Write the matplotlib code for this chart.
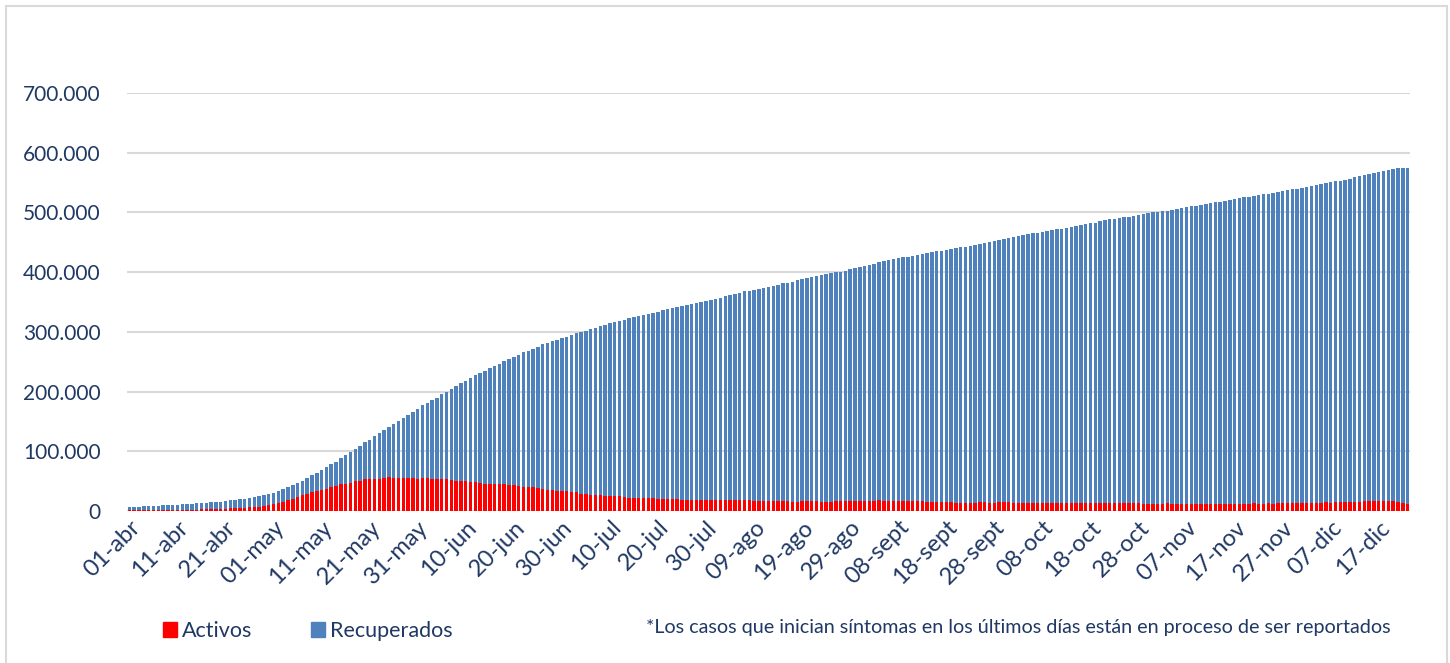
import numpy as np
import pandas as pd
import matplotlib
matplotlib.use('Agg')
import matplotlib.pyplot as plt
import matplotlib.transforms as mtransforms
from matplotlib.patches import Patch, Rectangle
from matplotlib.ticker import FuncFormatter

# fechas de inicio de sintomas: 01-abr al 23-dic
fechas = pd.date_range('2020-04-01', '2020-12-23', freq='D')

# casos acumulados (altura total de la barra), en miles
casos_k = [
    6.6, 7.2, 7.2, 7.8, 7.8, 8.3, 8.9, 9.4, 10.0, 10.0,
    10.6, 11.1, 11.7, 12.2, 12.8, 13.3, 13.9, 14.5, 15.0, 15.6,
    16.7, 17.8, 18.4, 19.5, 20.6, 21.7, 22.8, 24.5, 26.2, 28.4,
    30.7, 33.4, 36.8, 40.7, 43.5, 47.4, 50.8, 55.2, 59.7, 64.2,
    69.2, 73.6, 78.1, 82.0,
    88, 94, 98, 104, 109, 115, 119, 126, 130, 135,
    141, 146, 151, 156, 161, 166, 170, 177, 181, 186,
    190, 196, 200, 204, 209, 214, 218, 222, 227, 231,
    234, 239, 243, 247, 251, 255, 258, 262, 266, 268,
    271, 275, 279, 281, 284, 286, 289, 292, 295, 298,
    299.5, 301.8, 304.6, 306.8, 309.0, 311.3, 314.0, 315.7, 318.0, 320.2,
    322.4, 324.1, 326.3, 328.6, 330.2, 331.9, 333.6, 335.8, 337.5, 339.7,
    341.4, 343.1, 344.8, 345.9, 348.1, 349.2, 351.5, 353.7, 355.4, 357.1,
    359.3, 361.5, 363.2, 365.4, 367.7, 368.8, 369.9, 371.6, 373.3, 375.5,
    377.2, 378.9, 381.1, 382.2, 383.9, 386.1, 387.8, 389.4, 391.1, 392.8,
    394.5, 396.1, 397.8, 399.5,
    400.0, 402.3, 404.5, 406.2, 407.9, 410.1, 412.4, 414.0, 416.2, 418.5,
    419.6, 421.3, 422.9, 424.6, 425.8, 427.4, 429.1, 430.2, 431.9, 433.6,
    434.7, 435.8, 437.5, 438.6, 439.7, 441.4, 442.5, 444.2, 445.9, 447.5,
    449.2, 450.9, 452.6, 454.2, 455.9, 457.0, 458.7, 460.3, 462.0, 463.1,
    464.8, 465.9, 467.6, 469.2, 470.4, 471.5, 472.6, 473.7, 475.4, 477.0,
    478.2, 479.9, 481.5, 482.7,
    484.9, 486.6, 488.3, 489.4, 490.5, 491.6, 492.7, 493.8,
    495.5, 497.2, 498.8, 500.0, 501.1, 501.7, 502.8, 504.5, 505.6, 507.3,
    508.9, 510.0, 511.2, 512.3, 513.9, 515.6, 516.7, 517.9, 519.5, 520.6,
    521.8, 523.4, 525.1, 526.2, 527.9, 529.6, 530.7, 531.3, 532.9, 534.6,
    536.3, 537.4, 538.5, 539.6, 540.7, 542.4, 544.1, 545.8, 547.4, 549.1,
    550.8, 551.9, 553.0, 554.7, 556.4, 558.6, 560.8, 563.1, 564.7, 566.4,
    568.1, 569.8, 571.4, 573.1, 574.2, 574.2, 574.2,
]

# casos activos (parte roja), en miles
activos_k = [
    1.0, 1.1, 1.2, 1.3, 1.4, 1.5, 1.6, 1.7, 1.8, 1.9,
    2.0, 2.1, 2.2, 2.4, 2.5, 2.7, 3.0, 3.2, 3.5, 3.8,
    4.0, 4.4, 5.0, 5.3, 5.6, 6.0, 6.6, 7.5, 8.8, 9.6,
    11, 13, 15, 18, 20, 23, 26, 28.5, 31, 34,
    35.5, 37.5, 40, 41.5,
    46, 46, 47, 50, 51, 53, 53, 53, 53, 55,
    57, 56, 56, 56, 55.5, 55, 53, 55, 54.5, 54,
    54, 53, 53.5, 52, 51, 50, 50, 49, 48, 47,
    46, 46, 45.5, 45, 45, 44, 43.5, 42, 41, 40,
    40, 39, 37, 36, 35, 33, 33, 33, 32, 31,
    29.0, 28.4, 27.3, 27.3, 26.2, 25.6, 25.6, 25.6, 24.5, 22.8,
    22.3, 22.3, 22.3, 21.7, 21.2, 21.2, 20.6, 20.6, 20.1, 20.1,
    20.6, 19.0, 19.0, 18.4, 19.0, 18.4, 19.0, 19.0, 18.4, 17.8,
    17.8, 17.8, 17.8, 17.8, 17.8, 17.8, 17.3, 17.3, 17.3, 17.3,
    17.3, 17.3, 17.3, 16.2, 15.6, 15.6, 16.2, 16.2, 16.2, 16.2,
    15.6, 15.6, 15.6, 16.2, 16.2, 16.7, 16.7, 16.7, 16.2, 16.2,
    17.3, 17.3, 17.8, 17.3, 17.3, 16.7, 17.3, 17.3, 17.3, 17.3,
    16.7, 16.7, 15.6, 15.6, 15.6, 15.1, 14.5, 14.5, 13.9, 13.9,
    13.9, 13.9, 13.9, 14.5, 14.5,
    14.0, 14.2, 14.5, 14.3, 14.3, 14.0, 14.0,
    13.9, 14.0, 13.8, 13.9, 14.1, 13.8, 13.9, 14.0, 13.7, 13.9,
    13.8, 13.6, 13.9, 13.7, 13.5, 13.6,
    13.4, 13.3, 13.5, 13.2, 13.4, 13.1, 13.0, 12.9,
    12.6, 12.4, 12.5, 12.3, 12.2, 12.4, 12.6, 12.3, 12.1, 12.3,
    12.5, 12.2, 12.4, 12.3, 12.1, 12.3, 12.5, 12.2,
    12.3, 12.4, 12.2, 12.5, 12.3, 12.4, 12.6, 12.3, 12.5, 12.7, 12.5,
    12.8, 13.0, 12.9, 13.1, 12.8, 13.2, 13.4,
    13.8, 14.2, 13.9, 14.3, 14.1, 14.6, 14.4,
    15.0, 15.4, 15.1, 15.8,
    16.5, 16.0, 16.8, 17.2, 17.5, 17.0,
    16.0, 15.2, 14.0, 11.5,
]

etiquetas_x = ['01-abr', '11-abr', '21-abr', '01-may', '11-may', '21-may', '31-may',
               '10-jun', '20-jun', '30-jun', '10-jul', '20-jul', '30-jul', '09-ago',
               '19-ago', '29-ago', '08-sept', '18-sept', '28-sept', '08-oct', '18-oct',
               '28-oct', '07-nov', '17-nov', '27-nov', '07-dic', '17-dic']

activos = np.array(activos_k) * 1000
recuperados = (np.array(casos_k) - np.array(activos_k)) * 1000

azul_txt = '#1F3864'
rojo = '#FF0000'
azul = '#4F81BD'

plt.rcParams['font.family'] = ['Lato', 'DejaVu Sans']

fig = plt.figure(figsize=(14.5, 6.63), dpi=100)
ax = fig.add_axes([127 / 1450, 1 - 511 / 663, (1410 - 127) / 1450, (511 - 93) / 663])

x = np.arange(len(fechas))
ax.bar(x, activos, width=0.72, color=rojo, label='Activos', zorder=3)
ax.bar(x, recuperados, width=0.72, bottom=activos, color=azul, label='Recuperados', zorder=3)

ax.set_xlim(-0.5, len(fechas) - 0.5)
ax.set_ylim(0, 700000)
ax.set_yticks(np.arange(0, 700001, 100000))
ax.yaxis.set_major_formatter(FuncFormatter(lambda v, p: f'{int(v):,}'.replace(',', '.')))
ax.grid(axis='y', color='#D9D9D9', linewidth=1.5, zorder=0)

ax.set_xticks(x[::10])
ax.set_xticklabels(etiquetas_x, rotation=45, ha='right', rotation_mode='anchor', fontsize=17)
# desplazar etiquetas un poco a la derecha, como en el original
desplaza = mtransforms.ScaledTranslation(9 / 100, 0, fig.dpi_scale_trans)
for lbl in ax.get_xticklabels():
    lbl.set_transform(lbl.get_transform() + desplaza)

for s in ax.spines.values():
    s.set_visible(False)
ax.tick_params(axis='both', length=0, colors=azul_txt)
ax.tick_params(axis='y', pad=19, labelsize=15)
ax.tick_params(axis='x', pad=4)

handles = [Patch(color=rojo), Patch(color=azul)]
fig.legend(handles, ['Activos', 'Recuperados'], loc='center left',
           bbox_to_anchor=(0.099, 0.048), ncol=2, frameon=False, fontsize=15.5,
           handlelength=0.65, handleheight=0.65, handletextpad=0.25, columnspacing=2.7,
           labelcolor=azul_txt)

fig.text(0.959, 0.054, '*Los casos que inician síntomas en los últimos días están en proceso de ser reportados',
         ha='right', va='center', fontsize=14.2, color=azul_txt)

fig.patches.append(Rectangle((6 / 1450, -0.01), 1441 / 1450, 1.0 - 6 / 663 + 0.01,
                             transform=fig.transFigure, fill=False, edgecolor='#D9D9D9',
                             linewidth=1.5))

fig.savefig('out.png', dpi=100)
